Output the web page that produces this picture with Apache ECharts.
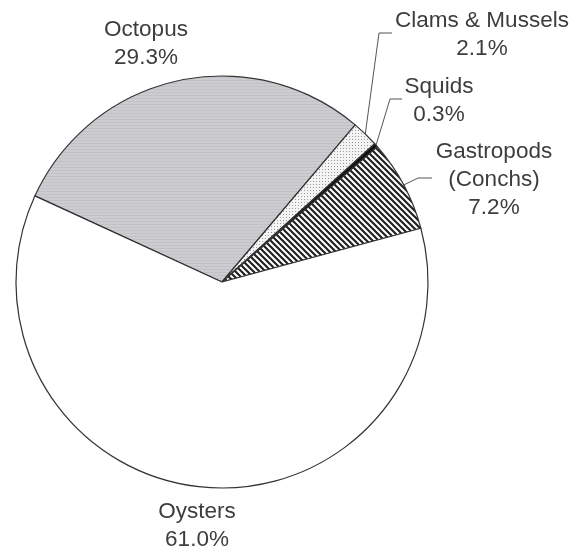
<!DOCTYPE html>
<html>
<head>
<meta charset="utf-8">
<script src="https://cdn.jsdelivr.net/npm/echarts@6/dist/echarts.min.js"></script>
<style>
html,body{margin:0;padding:0;background:#fff;}
#chart{width:574px;height:552px;}
</style>
</head>
<body>
<div id="chart"></div>
<script>
// Data (clockwise from the Octopus/Oysters boundary)
const categories = ['Octopus', 'Clams & Mussels', 'Squids', 'Gastropods\n(Conchs)', 'Oysters'];
const shares = [29.3, 2.1, 0.3, 7.2, 61.0];

// Layout (label centres and leader-line elbows) — positions, not data
const labelPos = [[146, 44], [482, 35], [439, 101], [494, 180], [197, 526]];
const elbows = [null, [[379, 33], [392, 33]], [[390, 99], [402, 99]], [[418, 178], [432, 178]], null];

function makePattern(w, h, draw) {
  const c = document.createElement('canvas');
  c.width = w; c.height = h;
  const ctx = c.getContext('2d');
  draw(ctx, w, h);
  return { image: c, repeat: 'repeat' };
}
const grayPattern = makePattern(4, 3, (ctx, w, h) => {
  ctx.fillStyle = '#cdcdd1'; ctx.fillRect(0, 0, w, h);
  ctx.fillStyle = '#c2c2c6'; ctx.fillRect(0, 2, w, 1);
});
const dotPattern = makePattern(3, 3, (ctx, w, h) => {
  ctx.fillStyle = '#f4f4f4'; ctx.fillRect(0, 0, w, h);
  ctx.fillStyle = '#9a9a9a'; ctx.fillRect(1, 1, 1, 1);
});
const hatchPattern = makePattern(6, 6, (ctx, w, h) => {
  ctx.fillStyle = '#ffffff'; ctx.fillRect(0, 0, w, h);
  ctx.strokeStyle = '#222'; ctx.lineWidth = 2.2;
  ctx.beginPath();
  ctx.moveTo(-1, -1); ctx.lineTo(w + 1, h + 1);
  ctx.moveTo(-1, h - 1); ctx.lineTo(1, h + 1);
  ctx.moveTo(w - 1, -1); ctx.lineTo(w + 1, 1);
  ctx.stroke();
});
const fills = [grayPattern, dotPattern, '#111111', hatchPattern, '#ffffff'];

const chart = echarts.init(document.getElementById('chart'), null, { renderer: 'canvas' });
chart.setOption({
  backgroundColor: '#ffffff',
  animation: false,
  series: [{
    type: 'pie',
    center: [222, 282],
    radius: 206,
    startAngle: 155.3,
    clockwise: true,
    avoidLabelOverlap: false,
    itemStyle: { borderColor: '#333333', borderWidth: 1.2 },
    label: {
      show: true,
      position: 'outside',
      fontFamily: 'Liberation Sans, Arial, sans-serif',
      fontSize: 22.5,
      lineHeight: 28,
      color: '#3d3d3d',
      align: 'center',
      formatter: p => p.name + '\n' + p.value.toFixed(1) + '%'
    },
    labelLine: { show: true, lineStyle: { color: '#555', width: 1 } },
    labelLayout: function (params) {
      const i = params.dataIndex;
      const out = { x: labelPos[i][0], y: labelPos[i][1], align: 'center', verticalAlign: 'middle' };
      if (elbows[i] && params.labelLinePoints) {
        const start = params.labelLinePoints[0];
        out.labelLinePoints = [start, elbows[i][0], elbows[i][1]];
      }
      return out;
    },
    data: categories.map((c, i) => ({
      name: c,
      value: shares[i],
      itemStyle: { color: fills[i] },
      labelLine: { show: !!elbows[i] }
    }))
  }]
});
</script>
</body>
</html>
